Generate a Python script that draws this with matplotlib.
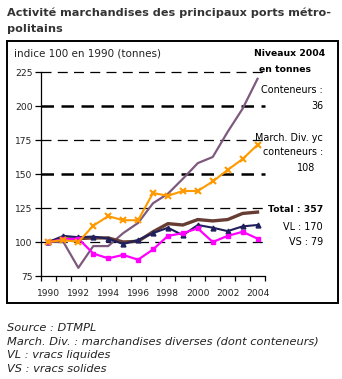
import matplotlib.pyplot as plt
from matplotlib.patches import Rectangle

plt.rcParams['font.family'] = ['DejaVu Sans']

years = [1990, 1991, 1992, 1993, 1994, 1995, 1996, 1997, 1998, 1999, 2000, 2001, 2002, 2003, 2004]
year_labels = ['1990', '', '1992', '', '1994', '', '1996', '', '1998', '', '2000', '', '2002', '', '2004']

conteneurs = [100, 100, 81, 97, 97, 106.5, 114, 128.5, 135.5, 146.5, 158, 162.5, 181, 198, 220]
march_div = [100, 101.5, 100, 112, 119, 116, 116, 136, 134, 137.5, 137.5, 144.5, 153, 161, 171.5]
total = [100, 102, 102.5, 103, 103, 100, 100.5, 107.5, 113.5, 112.5, 116.5, 115.5, 116.5, 121, 122]
vl = [100, 104.5, 103.5, 104, 102.5, 98.5, 101.5, 106.5, 110.5, 105, 112.5, 110.5, 108, 111.5, 112.5]
vs = [100, 102, 102.5, 91.5, 88, 90.5, 87, 94.5, 104.5, 106.5, 110, 100, 104.5, 107.5, 102.5]

W, H = 342, 379
fig = plt.figure(figsize=(W / 100, H / 100), dpi=100)


def fx(x):
    return x / W


def fy(y):
    return 1 - y / H


ax = fig.add_axes([fx(41), fy(276), fx(265) - fx(41), fy(72) - fy(276)])
x = list(range(len(years)))

# grille
for v in [100, 125, 175, 225]:
    ax.axhline(v, color='black', lw=0.9, dashes=(8, 5), zorder=1, clip_on=False)
for v in [150, 200]:
    ax.axhline(v, color='black', lw=1.8, dashes=(5, 3), zorder=1, clip_on=False)

ax.plot(x, conteneurs, color='#7d5a7d', lw=1.6, zorder=3)
ax.plot(x, total, color='#673c32', lw=2.4, zorder=3)
ax.plot(x, vl, color='#1f1f5c', lw=1.5, marker='^', ms=3.5, zorder=4)
ax.plot(x, vs, color='#ff00ff', lw=1.6, marker='s', ms=3.5, zorder=4)
ax.plot(x, march_div, color='#ff9900', lw=1.5, marker='x', ms=5, mew=1.5, zorder=5)

ax.set_xlim(-0.5, len(years) - 0.5)
ax.set_ylim(75, 225)
ax.set_yticks([75, 100, 125, 150, 175, 200, 225])
ax.set_xticks(x)
ax.set_xticklabels(year_labels)
ax.set_xticks([i - 0.5 for i in range(len(years) + 1)], minor=True)
ax.tick_params(axis='x', which='major', length=0, pad=9, labelsize=6.6, colors='#222222')
ax.tick_params(axis='x', which='minor', length=3.5, width=0.9, direction='out')
ax.tick_params(axis='y', length=4, width=0.9, labelsize=6.6, colors='#222222', pad=2)
ax.tick_params(axis='both', color='black')
for s in ['top', 'right']:
    ax.spines[s].set_visible(False)
for s in ['left', 'bottom']:
    ax.spines[s].set_linewidth(0.9)
ax.patch.set_alpha(0)

# cadre
fig.patches.append(Rectangle((fx(7), fy(303)), fx(338) - fx(7), fy(41) - fy(303),
                             transform=fig.transFigure, fill=False, lw=1.4, ec='black'))

tc = '#333333'
fig.text(fx(7), fy(13), 'Activité marchandises des principaux ports métro-', fontsize=8.1,
         fontweight='bold', color=tc, va='center')
fig.text(fx(7), fy(29), 'politains', fontsize=8.1, fontweight='bold', color=tc, va='center')

fig.text(fx(14), fy(53), 'indice 100 en 1990 (tonnes)', fontsize=7.5, color='#222222', va='center')
fig.text(fx(325), fy(53), 'Niveaux 2004', fontsize=6.7, fontweight='bold', ha='right', va='center')
fig.text(fx(259), fy(70), 'en tonnes', fontsize=6.7, fontweight='bold', va='center')
fig.text(fx(323), fy(90), 'Conteneurs :', fontsize=6.9, ha='right', va='center')
fig.text(fx(323), fy(106), '36', fontsize=6.9, ha='right', va='center')
fig.text(fx(323), fy(138), 'March. Div. yc', fontsize=6.9, ha='right', va='center')
fig.text(fx(323), fy(152), 'conteneurs :', fontsize=6.9, ha='right', va='center')
fig.text(fx(315), fy(168), '108', fontsize=6.9, ha='right', va='center')
fig.text(fx(323), fy(209), 'Total : 357', fontsize=6.7, fontweight='bold', ha='right', va='center')
fig.text(fx(323), fy(227), 'VL : 170', fontsize=6.9, ha='right', va='center')
fig.text(fx(323), fy(242), 'VS : 79', fontsize=6.9, ha='right', va='center')

notes = ['Source : DTMPL',
         'March. Div. : marchandises diverses (dont conteneurs)',
         'VL : vracs liquides',
         'VS : vracs solides']
for i, n in enumerate(notes):
    fig.text(fx(7), fy(328 + i * 13.7), n, fontsize=8.2, style='italic', color='#222222', va='center')

fig.savefig('out.png', dpi=100)
